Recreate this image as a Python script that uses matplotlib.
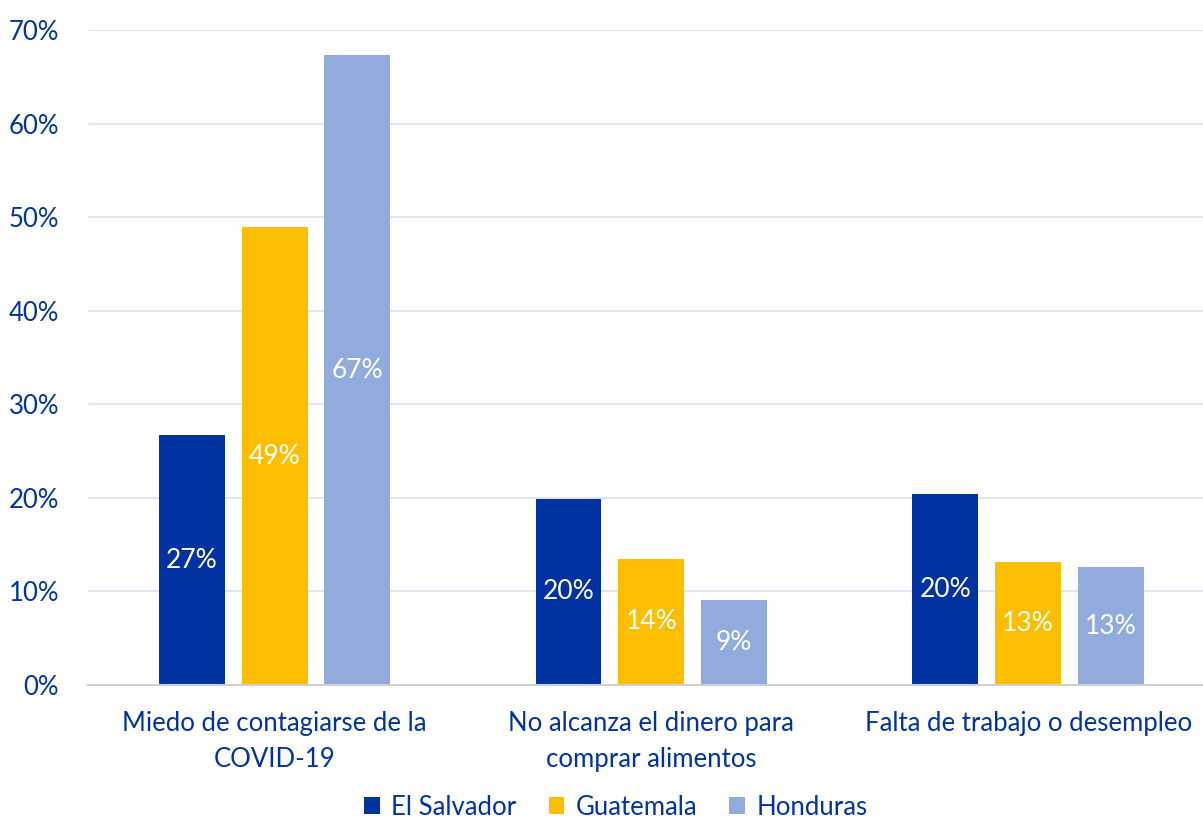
import numpy as np
import matplotlib.pyplot as plt

plt.rcParams['font.family'] = ['Lato', 'DejaVu Sans']

categorias = ["Miedo de contagiarse de la\nCOVID-19",
              "No alcanza el dinero para\ncomprar alimentos",
              "Falta de trabajo o desempleo"]
paises = ["El Salvador", "Guatemala", "Honduras"]
el_salvador = [26.7, 19.9, 20.4]
guatemala = [48.9, 13.5, 13.1]
honduras = [67.3, 9.1, 12.6]
etiquetas_y = ["0%", "10%", "20%", "30%", "40%", "50%", "60%", "70%"]

colores = ["#0033A1", "#FBBE00", "#91ABDC"]
texto = "#0033A0"

fig = plt.figure(figsize=(12.03, 8.23), dpi=100)
ax = fig.add_axes([0.0732, 0.1677, 0.9268, 0.7958])

x = np.arange(len(categorias))
ancho = 0.175
paso = 0.22
for i, (serie, color) in enumerate(zip([el_salvador, guatemala, honduras], colores)):
    barras = ax.bar(x + (i - 1) * paso, serie, ancho, color=color, label=paises[i], zorder=3)
    ax.bar_label(barras, labels=[f"{v:.0f}%" for v in serie], label_type="center",
                 color="white", fontsize=19)

ax.set_ylim(0, 70)
ax.set_xlim(-0.495, 2.464)
ax.set_yticks(range(0, 80, 10))
ax.set_yticklabels(etiquetas_y)
ax.set_xticks(x)
ax.set_xticklabels(categorias, linespacing=1.55)
ax.tick_params(axis="y", length=0, pad=21, labelsize=18.5, labelcolor=texto)
ax.tick_params(axis="x", length=0, pad=19, labelsize=18.5, labelcolor=texto)
ax.grid(axis="y", color="#DCE3F1", linewidth=1.3, zorder=0)
for s in ["top", "right", "left"]:
    ax.spines[s].set_visible(False)
ax.spines["bottom"].set_color("#D0D0D0")
ax.spines["bottom"].set_linewidth(1.5)
ax.spines["bottom"].set_zorder(4)

fig.legend(loc="lower center", bbox_to_anchor=(0.512, -0.024), ncol=3, frameon=False,
           fontsize=18.5, handlelength=0.6, handleheight=0.6, handletextpad=0.45,
           columnspacing=1.25, labelcolor=texto)

fig.savefig("out.png", dpi=100)
